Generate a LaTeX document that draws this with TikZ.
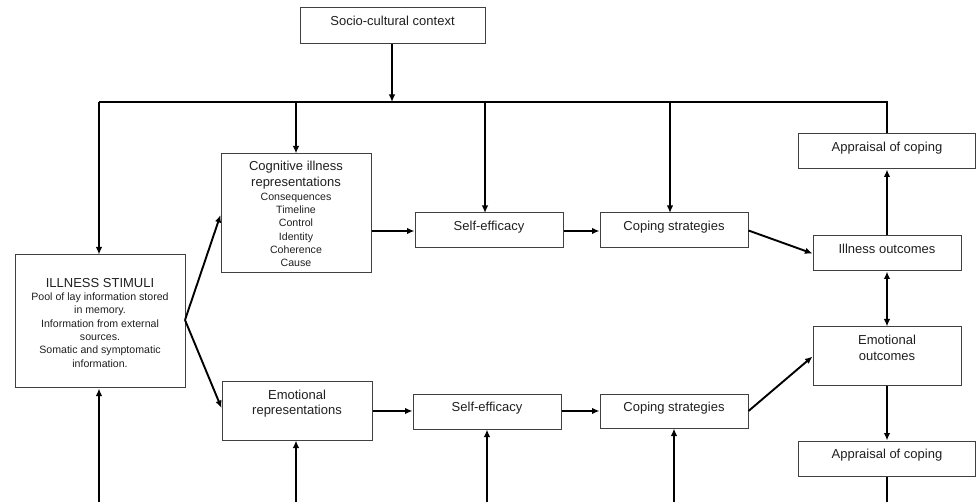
\documentclass[tikz,border=0pt]{standalone}
\usepackage{fontspec}
\setmainfont{Liberation Sans}
\usetikzlibrary{arrows.meta}
\newcommand\fsbig{\fontsize{13}{16}\selectfont}
\newcommand\fssmall{\fontsize{10.6}{13.3}\selectfont}
\tikzset{
  box/.style={draw=black!75, line width=1pt, rectangle, inner sep=0pt},
  tx/.style={anchor=north, inner sep=0pt, align=center, font=\fsbig, text=black!88},
  arr/.style={line width=1.9pt, -{Latex[length=7.5pt,width=6.5pt]}},
  barr/.style={line width=1.9pt, {Latex[length=7.5pt,width=6.5pt]}-{Latex[length=7.5pt,width=6.5pt]}},
  ln/.style={line width=1.9pt}
}
\begin{document}
\begin{tikzpicture}[x=1pt, y=-1pt]
\useasboundingbox (0,0) rectangle (977,502);

% boxes
\node[box, minimum width=185pt, minimum height=36pt] (soc) at (392.5,26) {};
\node[tx] (soct) at ([yshift=-8pt]soc.north) {Socio-cultural context};

\node[box, minimum width=150pt, minimum height=119pt] (cog) at (296,213.5) {};
\node[tx] (cogt) at ([yshift=-7.5pt]cog.north) {Cognitive illness\\representations\\[-2.5pt]\fssmall Consequences\\[-2.7pt]\fssmall Timeline\\[-2.7pt]\fssmall Control\\[-2.7pt]\fssmall Identity\\[-2.7pt]\fssmall Coherence\\[-2.7pt]\fssmall Cause};

\node[box, minimum width=148pt, minimum height=35pt] (seA) at (489,230.5) {};
\node[tx] (seAt) at ([yshift=-8pt]seA.north) {Self-efficacy};

\node[box, minimum width=148pt, minimum height=35pt] (csA) at (674,230.5) {};
\node[tx] (csAt) at ([yshift=-8pt]csA.north) {Coping strategies};

\node[box, minimum width=177pt, minimum height=35pt] (apA) at (887,151.5) {};
\node[tx] (apAt) at ([yshift=-8pt]apA.north) {Appraisal of coping};

\node[box, minimum width=148pt, minimum height=35pt] (io) at (887,253.5) {};
\node[tx] (iot) at ([yshift=-8pt]io.north) {Illness outcomes};

\node[box, minimum width=170pt, minimum height=133pt] (ill) at (100,321.5) {};
\node[tx] (illt) at ([yshift=-23.5pt]ill.north) {ILLNESS STIMULI\\[-2.7pt]\fssmall Pool of lay information stored\\[-2.7pt]\fssmall in memory.\\[-2.7pt]\fssmall Information from external\\[-2.7pt]\fssmall sources.\\[-2.7pt]\fssmall Somatic and symptomatic\\[-2.7pt]\fssmall information.};

\node[box, minimum width=150pt, minimum height=58pt] (emr) at (297,411) {};
\node[tx] (emrt) at ([yshift=-8pt]emr.north) {Emotional\\[-0.5pt]representations};

\node[box, minimum width=148pt, minimum height=35pt] (seB) at (487,411.5) {};
\node[tx] (seBt) at ([yshift=-8pt]seB.north) {Self-efficacy};

\node[box, minimum width=148pt, minimum height=34pt] (csB) at (674,411) {};
\node[tx] (csBt) at ([yshift=-8pt]csB.north) {Coping strategies};

\node[box, minimum width=148pt, minimum height=59pt] (eo) at (887,356.5) {};
\node[tx] (eot) at ([yshift=-8.5pt]eo.north) {Emotional\\outcomes};

\node[box, minimum width=177pt, minimum height=35pt] (apB) at (887,458.5) {};
\node[tx] (apBt) at ([yshift=-8pt]apB.north) {Appraisal of coping};

% bus coordinates
\coordinate (busL) at (99,102);
\coordinate (busR) at (887,102);
\coordinate (busS) at (392,102);
\coordinate (bA) at (99,502);
\coordinate (bB) at (296,502);
\coordinate (bC) at (487,502);
\coordinate (bD) at (674,502);
\coordinate (bE) at (887,502);

% top connectors
\draw[arr] (soc.south -| busS) -- (busS);
\draw[ln] (apA.north) -- (busR) -- (busL);
\draw[arr] (busL) -- (busL |- ill.north);
\draw[arr] (busL -| cog.north) -- (cog.north);
\draw[arr] (busL -| 485,0) -- (485,213);
\draw[arr] (busL -| 670,0) -- (670,213);

% upper row
\draw[arr] (cog.east |- 0,231) -- (seA.west |- 0,231);
\draw[arr] (seA.east |- 0,231) -- (csA.west |- 0,231);
\draw[arr] (csA.east) -- (io.west);
\draw[arr] (io.north) -- (apA.south);
\draw[barr] (io.south) -- (eo.north);
\draw[arr] (eo.south) -- (apB.north);

% from stimuli
\coordinate (split) at (185,320);
\draw[arr] (split) -- ([yshift=-1.5pt]cog.west);
\draw[arr] (split) -- ([yshift=3pt]emr.west);

% lower row
\draw[arr] (emr.east) -- (seB.west |- emr.east);
\draw[arr] (seB.east |- emr.east) -- (csB.west);
\draw[arr] (csB.east) -- (eo.west);

% from bottom
\draw[arr] (bA) -- (bA |- ill.south);
\draw[arr] (bB) -- (bB |- emr.south);
\draw[arr] (bC) -- (bC |- seB.south);
\draw[arr] (bD) -- (bD |- csB.south);
\draw[ln] (apB.south) -- (bE);
\end{tikzpicture}
\end{document}
